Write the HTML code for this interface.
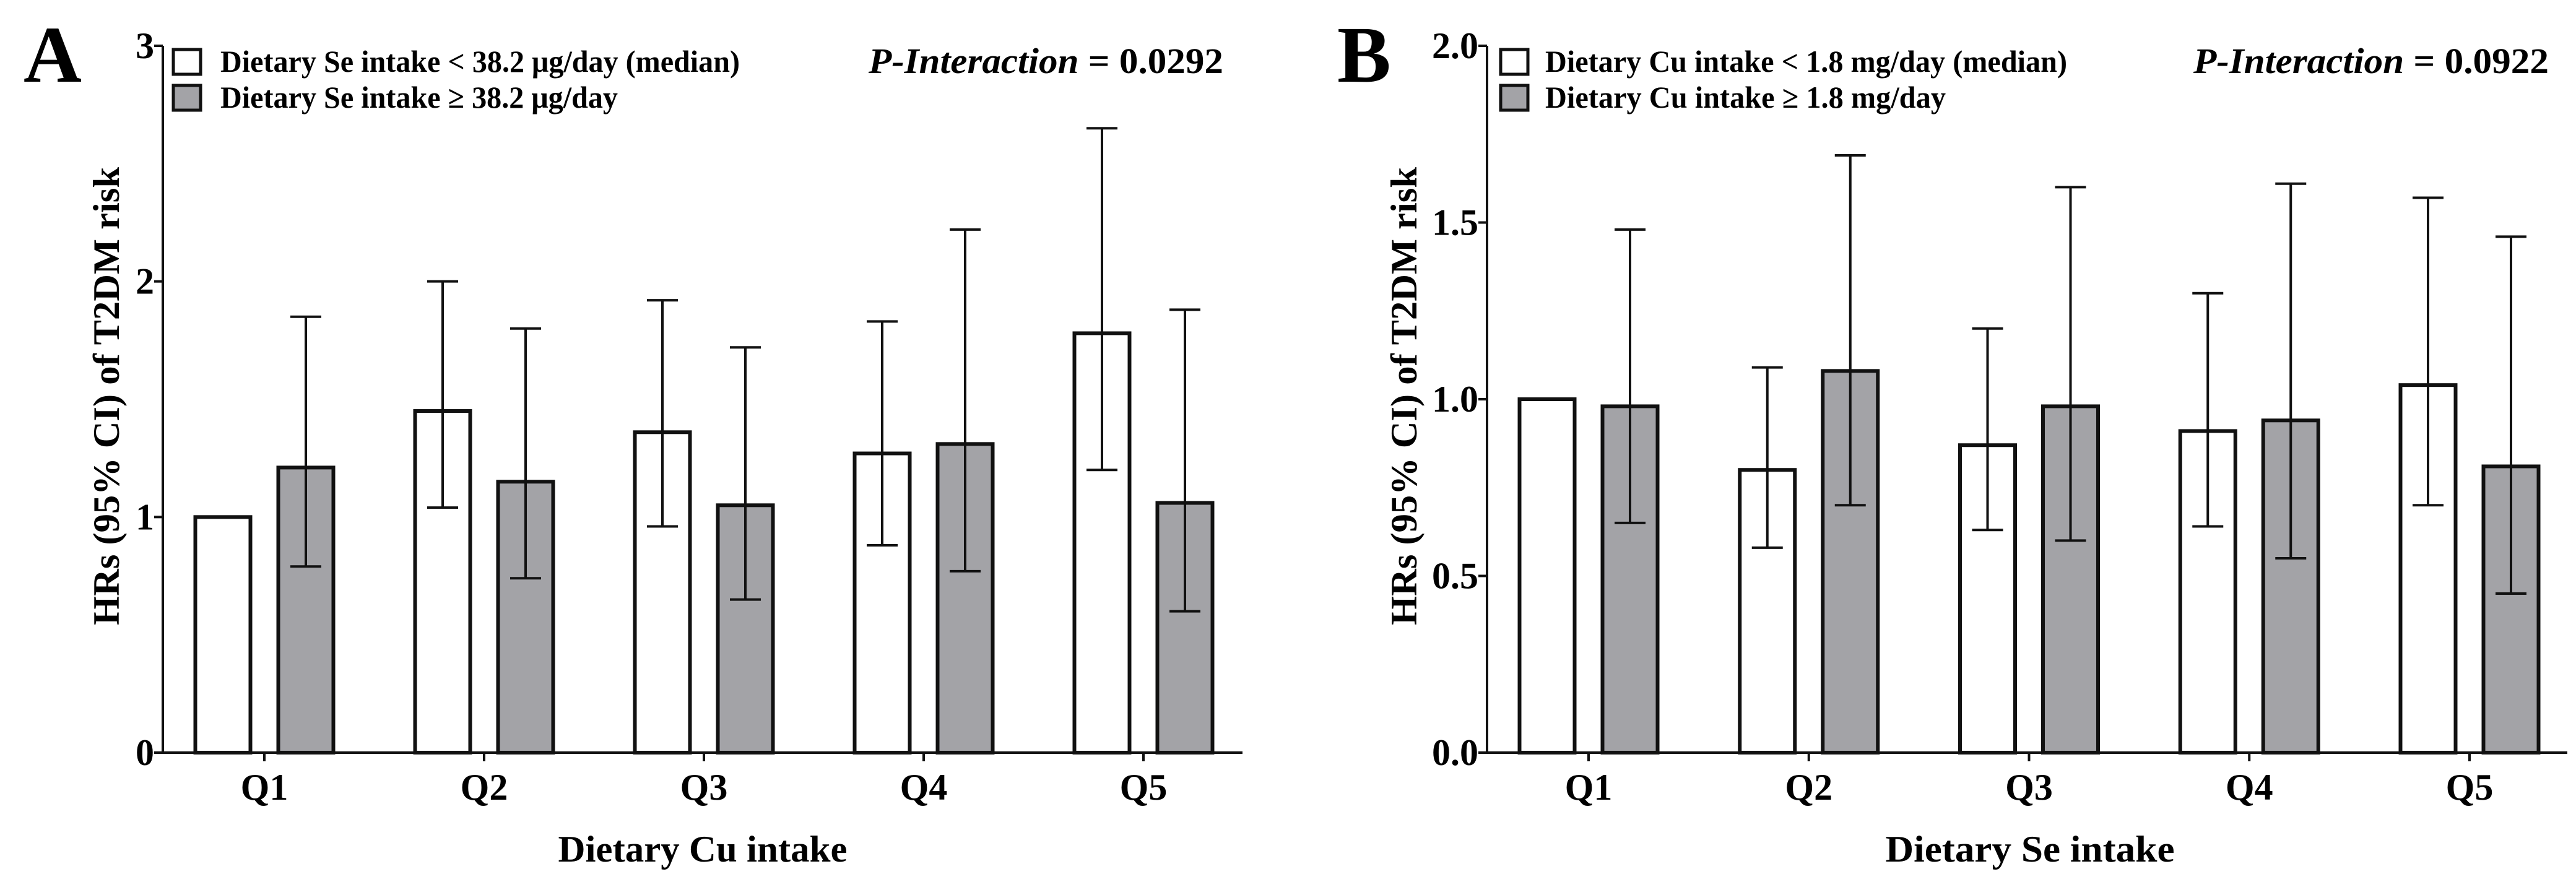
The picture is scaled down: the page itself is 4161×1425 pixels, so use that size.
<!DOCTYPE html>
<html><head><meta charset="utf-8"><style>
html,body{margin:0;padding:0;background:#fff;}
svg{display:block;font-family:"Liberation Serif",serif;font-weight:bold;}
</style></head><body>
<svg id="chart" width="4161" height="1425" viewBox="0 0 4161 1425" xmlns="http://www.w3.org/2000/svg"></svg>
<script>
const categories = ["Q1","Q2","Q3","Q4","Q5"];
const aLowVals = [1.0, 1.45, 1.36, 1.27, 1.78];
const aLowLo = [null, 1.04, 0.96, 0.88, 1.20];
const aLowHi = [null, 2.00, 1.92, 1.83, 2.65];
const aHighVals = [1.21, 1.15, 1.05, 1.31, 1.06];
const aHighLo = [0.79, 0.74, 0.65, 0.77, 0.60];
const aHighHi = [1.85, 1.80, 1.72, 2.22, 1.88];
const aTicks = [0, 1, 2, 3];
const aTickLabels = ["0", "1", "2", "3"];
const bLowVals = [1.0, 0.80, 0.87, 0.91, 1.04];
const bLowLo = [null, 0.58, 0.63, 0.64, 0.70];
const bLowHi = [null, 1.09, 1.20, 1.30, 1.57];
const bHighVals = [0.98, 1.08, 0.98, 0.94, 0.81];
const bHighLo = [0.65, 0.70, 0.60, 0.55, 0.45];
const bHighHi = [1.48, 1.69, 1.60, 1.61, 1.46];
const bTicks = [0, 0.5, 1.0, 1.5, 2.0];
const bTickLabels = ["0.0", "0.5", "1.0", "1.5", "2.0"];

const NS = "http://www.w3.org/2000/svg";
const svg = document.getElementById("chart");
function mk(tag, attrs, parent, text) {
  const e = document.createElementNS(NS, tag);
  for (const k in attrs) e.setAttribute(k, attrs[k]);
  if (text !== undefined) e.textContent = text;
  (parent || svg).appendChild(e);
  return e;
}
const GRAY = "#a3a3a7";

function panel(cfg) {
  const g = mk("g", {});
  
  
  const y0 = 1216, yTop = 74;
  const yScale = v => y0 - (v / cfg.ymax) * (y0 - yTop);
  const xScale = i => cfg.x0tick + i * cfg.step;
  const L = mk("text", {x: cfg.letterX, y: 132, "font-size": 130}, g, cfg.letter);
  
  
  const bw = 89, off = 67;
  function series(vals, lo, hi, fill, nm, sign) {
    vals.forEach((v, i) => {
      const cx = xScale(i) + sign * off;
      const r = mk("rect", {x: cx - bw/2, y: yScale(v), width: bw, height: y0 - yScale(v), fill: fill, stroke: "#111", "stroke-width": 6}, g);
      
      
      if (lo[i] !== null) {
        const eg = mk("g", {stroke: "#111", "stroke-width": 4}, g);
        
        
        mk("line", {x1: cx, x2: cx, y1: yScale(lo[i]), y2: yScale(hi[i])}, eg);
        mk("line", {x1: cx - 25, x2: cx + 25, y1: yScale(lo[i]), y2: yScale(lo[i])}, eg);
        mk("line", {x1: cx - 25, x2: cx + 25, y1: yScale(hi[i]), y2: yScale(hi[i])}, eg);
      }
    });
  }
  series(cfg.low, cfg.lowLo, cfg.lowHi, "#fff", "low-group", -1);
  series(cfg.high, cfg.highLo, cfg.highHi, GRAY, "high-group", 1);
  const ya = mk("line", {x1: cfg.axisX, x2: cfg.axisX, y1: yTop, y2: y0 + 2, stroke: "#111", "stroke-width": 4}, g);
  
  
  const xa = mk("line", {x1: cfg.axisX - 2, x2: cfg.axisEnd, y1: y0, y2: y0, stroke: "#111", "stroke-width": 4}, g);
  
  
  cfg.ticks.forEach((t, i) => {
    const y = yScale(t);
    mk("line", {x1: cfg.axisX - 14, x2: cfg.axisX, y1: y, y2: y, stroke: "#111", "stroke-width": 4}, g);
    const tl = mk("text", {x: cfg.axisX - 14, y: y + 20, "font-size": 60, "text-anchor": "end"}, g, cfg.tickLabels[i]);
    
    
  });
  categories.forEach((c, i) => {
    const x = xScale(i);
    mk("line", {x1: x, x2: x, y1: y0, y2: y0 + 14, stroke: "#111", "stroke-width": 4}, g);
    const tl = mk("text", {x: x, y: 1292, "font-size": 60, "text-anchor": "middle"}, g, c);
    
    
  });
  const xt = mk("text", {x: cfg.xTitleX, y: 1392, "font-size": 60, "text-anchor": "middle", textLength: 467, lengthAdjust: "spacingAndGlyphs"}, g, cfg.xTitle);
  
  
  const yt = mk("text", {x: 0, y: 0, "font-size": 60, "text-anchor": "middle", textLength: 740, lengthAdjust: "spacingAndGlyphs", transform: `translate(${cfg.yTitleX + 20},640) rotate(-90)`}, g, "HRs (95% CI) of T2DM risk");
  
  
  const lg = mk("g", {}, g);
  
  
  [[cfg.leg1, "#fff", 100, cfg.leg1W], [cfg.leg2, GRAY, 158, cfg.leg2W]].forEach(([t, f, cy, w], k) => {
    const e = mk("g", {}, lg);
    
    
    mk("rect", {x: cfg.legBoxX, y: cy - 20, width: 44, height: 40, fill: f, stroke: "#111", "stroke-width": 5}, e);
    mk("text", {x: cfg.legTextX, y: cy + 16, "font-size": 50, textLength: w, lengthAdjust: "spacingAndGlyphs"}, e, t);
  });
  const p = mk("text", {x: cfg.pX, y: 118, "font-size": 58, textLength: cfg.pW, lengthAdjust: "spacingAndGlyphs"}, g);
  
  
  mk("tspan", {"font-style": "italic"}, p, "P-Interaction");
  mk("tspan", {}, p, " = " + cfg.pVal);
}

panel({name: "panel-a", letter: "A", letterX: 38, ymax: 3, axisX: 263, axisEnd: 2007, x0tick: 427, step: 355,
  low: aLowVals, lowLo: aLowLo, lowHi: aLowHi, high: aHighVals, highLo: aHighLo, highHi: aHighHi,
  ticks: aTicks, tickLabels: aTickLabels, xTitle: "Dietary Cu intake", xTitleX: 1135, yTitleX: 172,
  leg1: "Dietary Se intake < 38.2 μg/day (median)", leg1W: 839, leg2: "Dietary Se intake ≥ 38.2 μg/day", leg2W: 642,
  legBoxX: 280, legTextX: 356, pX: 1403, pW: 573, pVal: "0.0292"});
panel({name: "panel-b", letter: "B", letterX: 2160, ymax: 2, axisX: 2402, axisEnd: 4147, x0tick: 2566, step: 355.75,
  low: bLowVals, lowLo: bLowLo, lowHi: bLowHi, high: bHighVals, highLo: bHighLo, highHi: bHighHi,
  ticks: bTicks, tickLabels: bTickLabels, xTitle: "Dietary Se intake", xTitleX: 3279, yTitleX: 2268,
  leg1: "Dietary Cu intake < 1.8 mg/day (median)", leg1W: 843, leg2: "Dietary Cu intake ≥ 1.8 mg/day", leg2W: 647,
  legBoxX: 2424, legTextX: 2496, pX: 3543, pW: 574, pVal: "0.0922"});
</script>
</body></html>
